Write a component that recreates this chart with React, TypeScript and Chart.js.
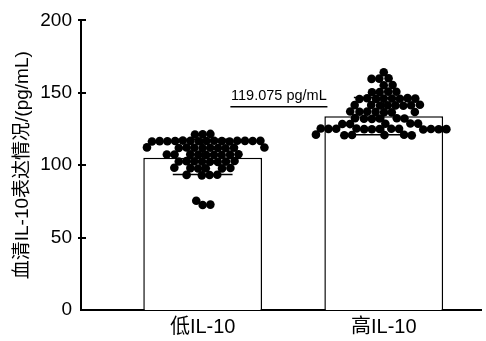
import React, { useEffect, useRef } from 'react';
import { Chart, registerables } from 'chart.js';

Chart.register(...registerables);

const categories = ['低IL-10', '高IL-10'];
const barMeans = [105.2, 133.8];
const errLow = [93.5, 121.0];
const errHigh = [118.0, 146.8];

const lowGroup = [
  121.4, 121.2, 121.6,
  116.7, 116.9, 116.5, 116.8, 116.6, 117.0, 116.4, 116.7, 116.9, 116.5, 116.8, 116.6, 116.7, 116.4, 116.8,
  112.0, 112.2, 111.8, 112.1, 111.9, 112.3, 111.7, 112.0, 112.2, 111.9,
  107.3, 107.5, 107.1, 107.4, 107.2, 107.6, 107.0, 107.3, 107.4,
  102.6, 102.8, 102.4, 102.7, 102.5, 102.9, 102.3, 102.6,
  97.9, 98.1, 97.7, 98.0, 97.8, 98.2,
  93.2, 93.4, 93.0, 93.3,
  72.5, 75.5, 72.8,
];

const highGroup = [
  164.2,
  159.8, 160.0, 159.6,
  155.2, 155.4,
  150.6, 150.8, 150.4, 150.7,
  146.0, 146.2, 145.8, 146.1, 145.9, 146.3, 145.7, 146.0,
  141.4, 141.6, 141.2, 141.5, 141.3, 141.7, 141.1, 141.4,
  136.8, 137.0, 136.6, 136.9, 136.7, 137.1, 136.5,
  132.2, 132.4, 132.0, 132.3, 132.1, 132.5,
  128.6, 128.8, 128.4, 128.7, 128.5,
  125.0, 125.2, 124.8, 125.1, 124.9, 125.3, 124.7, 125.0, 125.2, 124.8, 125.1, 124.9, 125.3,
  120.8, 121.0, 120.6, 120.9, 120.7, 121.1,
];

const yTicks = [0, 50, 100, 150, 200];
const yTitle = '血清IL-10表达情况/(pg/mL)';
const annotationText = '119.075 pg/mL';
const annotationValue = 140.4;
const annotationFrom = 0.153;
const annotationTo = 0.689;

const FONT = '"Liberation Sans", Arial, "Noto Sans CJK SC", sans-serif';

function swarm(values: number[], yPix: (v: number) => number, diam: number): number[] {
  const out: number[] = new Array(values.length).fill(0);
  const placed: { x: number; y: number }[] = [];
  const d2 = diam * diam;
  values.forEach((v, i) => {
    const y = yPix(v);
    const cands: number[] = [0];
    for (const p of placed) {
      const dy = Math.abs(p.y - y);
      if (dy < diam) {
        const dx = Math.sqrt(d2 - dy * dy);
        cands.push(p.x + dx, p.x - dx);
      }
    }
    cands.sort((a, b) => Math.abs(a) - Math.abs(b) || a - b);
    for (const c of cands) {
      if (placed.every((p) => (p.x - c) ** 2 + (p.y - y) ** 2 >= d2 - 0.01)) {
        out[i] = c;
        placed.push({ x: c, y });
        break;
      }
    }
  });
  return out;
}

const errorBarPlugin = {
  id: 'errorBars',
  afterDatasetDraw(chart: any, args: any) {
    if (args.index !== 0) return;
    const { ctx } = chart;
    const x = chart.scales.x;
    const y = chart.scales.y;
    ctx.save();
    ctx.strokeStyle = '#000';
    ctx.lineWidth = 1.5;
    barMeans.forEach((_, i) => {
      const cx = x.getPixelForValue(i);
      const half = x.getPixelForValue(i + 0.165) - cx;
      const yl = y.getPixelForValue(errLow[i]);
      const yh = y.getPixelForValue(errHigh[i]);
      ctx.beginPath();
      ctx.moveTo(cx, yl);
      ctx.lineTo(cx, yh);
      ctx.moveTo(cx - half, yl);
      ctx.lineTo(cx + half, yl);
      ctx.moveTo(cx - half, yh);
      ctx.lineTo(cx + half, yh);
      ctx.stroke();
    });
    ctx.restore();
  },
};

const decorPlugin = {
  id: 'decor',
  afterDraw(chart: any) {
    const { ctx, chartArea } = chart;
    const x = chart.scales.x;
    const y = chart.scales.y;
    ctx.save();
    ctx.strokeStyle = '#000';
    ctx.lineWidth = 2;
    yTicks.forEach((t) => {
      if (t === 0) return;
      const py = Math.round(y.getPixelForValue(t));
      ctx.beginPath();
      ctx.moveTo(chartArea.left - 3, py);
      ctx.lineTo(chartArea.left + 5, py);
      ctx.stroke();
    });
    const ly = y.getPixelForValue(annotationValue);
    const x1 = x.getPixelForValue(annotationFrom);
    const x2 = x.getPixelForValue(annotationTo);
    ctx.lineWidth = 1.5;
    ctx.beginPath();
    ctx.moveTo(x1, ly);
    ctx.lineTo(x2, ly);
    ctx.stroke();
    ctx.fillStyle = '#000';
    ctx.font = '14.5px ' + FONT;
    ctx.textAlign = 'center';
    ctx.textBaseline = 'alphabetic';
    ctx.fillText(annotationText, (x1 + x2) / 2, ly - 7);
    ctx.restore();
  },
};

export default function App() {
  const ref = useRef<HTMLCanvasElement | null>(null);

  useEffect(() => {
    document.body.style.margin = '0';
    const canvas = ref.current;
    if (!canvas) return;
    const chart = new Chart(canvas, {
      type: 'bar',
      data: {
        datasets: [
          {
            type: 'bar',
            data: barMeans.map((m, i) => ({ x: i, y: m })),
            backgroundColor: '#ffffff',
            borderColor: '#000000',
            borderWidth: 1.5,
            barPercentage: 0.656,
            categoryPercentage: 1,
            order: 2,
          } as any,
          {
            type: 'scatter',
            data: [] as any[],
            backgroundColor: '#000000',
            borderColor: '#000000',
            borderWidth: 0,
            pointRadius: 4.3,
            order: 1,
          } as any,
        ],
      },
      options: {
        responsive: false,
        animation: false,
        devicePixelRatio: 1,
        layout: { padding: { top: 18, left: 0, right: 0, bottom: 0 } },
        plugins: { legend: { display: false }, tooltip: { enabled: false } },
        scales: {
          x: {
            type: 'linear',
            offset: false,
            min: -0.672,
            max: 1.541,
            grid: { display: false, drawTicks: false, offset: false },
            border: { display: true, color: '#000', width: 2 },
            afterBuildTicks: (axis: any) => {
              axis.ticks = categories.map((_, i) => ({ value: i }));
            },
            afterFit: (axis: any) => {
              axis.height = 31;
            },
            ticks: {
              callback: (v: any) => categories[v as number] ?? '',
              font: { size: 20, family: FONT },
              color: '#000',
              padding: 5,
              maxRotation: 0,
              autoSkip: false,
            },
          },
          y: {
            type: 'linear',
            min: 0,
            max: 200,
            afterBuildTicks: (axis: any) => {
              axis.ticks = yTicks.map((v) => ({ value: v }));
            },
            afterFit: (axis: any) => {
              axis.width = 81;
            },
            grid: { display: false, drawTicks: false },
            border: { display: true, color: '#000', width: 2 },
            ticks: {
              font: { size: 19, family: FONT },
              color: '#000',
              padding: 9,
            },
            title: {
              display: true,
              text: yTitle,
              font: { size: 19, family: FONT },
              color: '#000',
              padding: { top: 11, bottom: 0 },
            },
          },
        },
      } as any,
      plugins: [errorBarPlugin, decorPlugin],
    });

    const xs = chart.scales.x;
    const ys = chart.scales.y;
    const unit = xs.getPixelForValue(1) - xs.getPixelForValue(0);
    const pts: any[] = [];
    [lowGroup, highGroup].forEach((vals, gi) => {
      const offs = swarm(vals, (v) => ys.getPixelForValue(v), 7.8);
      vals.forEach((v, k) => pts.push({ x: gi + offs[k] / unit, y: v }));
    });
    chart.data.datasets[1].data = pts;
    chart.update();

    return () => chart.destroy();
  }, []);

  return <canvas ref={ref} width={486} height={341} />;
}
